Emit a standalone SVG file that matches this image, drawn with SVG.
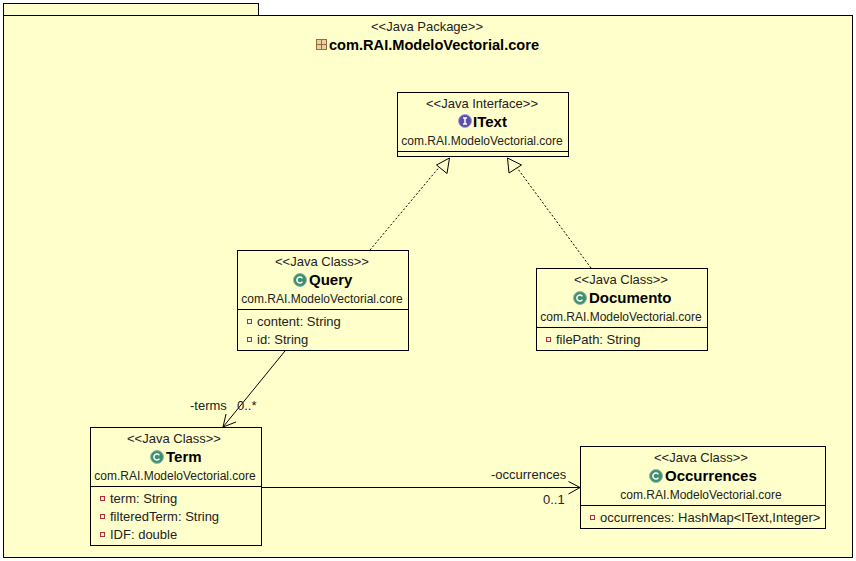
<svg xmlns="http://www.w3.org/2000/svg" width="856" height="561" viewBox="0 0 856 561">
<style>
.p{fill:#ffffcc;stroke:#000;stroke-width:1}
.b{fill:none;stroke:#000;stroke-width:1}
text{font-family:"Liberation Sans",Arial,sans-serif;font-size:13px;fill:#222;text-anchor:middle}
.n{font-size:12px}
.t{font-size:15px;font-weight:bold;fill:#000;text-anchor:start}
.a{text-anchor:start}
.c{fill:none;stroke:#000;stroke-width:1}
.d{stroke-dasharray:2 2}
.h{fill:#ffffcc;stroke:#000;stroke-width:1}
</style>
<defs>
<g id="cls"><circle r="6.500" fill="#3f8f6f" stroke="#8fb8a5"/><path d="M2.400-1.600A3 3 0 1 0 2.400 1.600" fill="none" stroke="#fff" stroke-width="1.500"/></g>
<g id="ifc"><circle r="6.500" fill="#5b4fa8" stroke="#a8a0d8"/><path d="M-2-3H2M-2 3H2M0-3V3" fill="none" stroke="#fff" stroke-width="1.500"/></g>
<g id="prv"><rect x="-2" y="-2" width="4" height="4" fill="#fbeeee" stroke="#b03030"/></g>
</defs>
<rect width="856" height="561" fill="#fff"/>
<g id="package">
<rect class="p" x="3.500" y="3.500" width="255" height="12"/>
<rect class="p" x="3.500" y="15.500" width="849" height="542"/>
<text x="427" y="31">&lt;&lt;Java Package&gt;&gt;</text>
<g fill="none" stroke="#9a6a3a"><rect x="316.500" y="39.500" width="10" height="10" fill="#e8d0a0"/><path d="M321.500 39.500V49.500M316.500 44.500H326.500"/></g>
<text class="t" style="font-size:14.600px" x="329" y="50">com.RAI.ModeloVectorial.core</text>
</g>
<g id="connectors">
<path class="c d" d="M370 250 441 165"/>
<path class="c d" d="M591 268 515 165"/>
<path class="h" d="M449.500 158 436.500 165 447 173.500Z"/>
<path class="h" d="M507.500 158 509 173 521.500 165Z"/>
<path class="c" d="M285 351 223 427"/>
<path class="c" d="M226 414 223 427 236 422"/>
<path class="c" d="M262 487.500H580"/>
<path class="c" d="M568.500 481.500 580 487.500 568.500 494"/>
<text class="a" x="190" y="410">-terms</text>
<text class="a" x="237" y="410">0..*</text>
<text class="a" x="491" y="479">-occurrences</text>
<text class="a" x="543" y="504">0..1</text>
</g>
<g id="IText">
<rect class="p" x="397.500" y="92.500" width="171" height="64"/>
<path class="b" d="M397.500 151.500H568.500"/>
<text x="482" y="108">&lt;&lt;Java Interface&gt;&gt;</text>
<use href="#ifc" x="465" y="121"/>
<text class="t" x="473" y="127">IText</text>
<text class="n" x="482" y="145">com.RAI.ModeloVectorial.core</text>
</g>
<g id="Query">
<rect class="p" x="237.500" y="250.500" width="171" height="100"/>
<path class="b" d="M237.500 309.500H408.500"/>
<text x="322" y="266">&lt;&lt;Java Class&gt;&gt;</text>
<use href="#cls" x="300" y="280"/>
<text class="t" x="309" y="285">Query</text>
<text class="n" x="322" y="303">com.RAI.ModeloVectorial.core</text>
<use href="#prv" x="249.500" y="321.500"/>
<text class="a" x="257" y="326">content: String</text>
<use href="#prv" x="249.500" y="339.500"/>
<text class="a" x="257" y="344">id: String</text>
</g>
<g id="Documento">
<rect class="p" x="536.500" y="268.500" width="171" height="82"/>
<path class="b" d="M536.500 327.500H707.500"/>
<text x="621" y="284">&lt;&lt;Java Class&gt;&gt;</text>
<use href="#cls" x="580" y="298"/>
<text class="t" x="589" y="303">Documento</text>
<text class="n" x="621" y="321">com.RAI.ModeloVectorial.core</text>
<use href="#prv" x="548.500" y="339.500"/>
<text class="a" x="556" y="344">filePath: String</text>
</g>
<g id="Term">
<rect class="p" x="90.500" y="427.500" width="171" height="118"/>
<path class="b" d="M90.500 486.500H261.500"/>
<text x="174" y="443">&lt;&lt;Java Class&gt;&gt;</text>
<use href="#cls" x="157" y="457"/>
<text class="t" x="166" y="462">Term</text>
<text class="n" x="175" y="480">com.RAI.ModeloVectorial.core</text>
<use href="#prv" x="102.500" y="498.500"/>
<text class="a" x="110" y="503">term: String</text>
<use href="#prv" x="102.500" y="516.500"/>
<text class="a" x="110" y="521">filteredTerm: String</text>
<use href="#prv" x="102.500" y="534.500"/>
<text class="a" x="110" y="539">IDF: double</text>
</g>
<g id="Occurrences">
<rect class="p" x="580.500" y="446.500" width="245" height="82"/>
<path class="b" d="M580.500 505.500H825.500"/>
<text x="701" y="462">&lt;&lt;Java Class&gt;&gt;</text>
<use href="#cls" x="656" y="476"/>
<text class="t" x="665" y="481">Occurrences</text>
<text class="n" x="701" y="499">com.RAI.ModeloVectorial.core</text>
<use href="#prv" x="592.500" y="517.500"/>
<text class="a" x="600" y="522">occurrences: HashMap&lt;IText,Integer&gt;</text>
</g>
</svg>
